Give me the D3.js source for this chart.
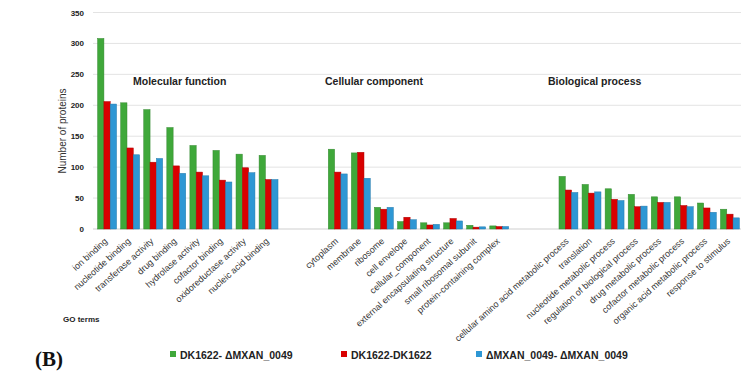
<!DOCTYPE html>
<html><head><meta charset="utf-8">
<script src="https://cdn.jsdelivr.net/npm/d3@7"></script>
<style>body{margin:0;background:#fff}svg{display:block}text{font-family:"Liberation Sans",Arial,sans-serif}</style>
</head><body><svg id="c" width="750" height="377"></svg>
<script>
const mfTerms = ["ion binding","nucleotide binding","transferase activity","drug binding","hydrolase activity","cofactor binding","oxidoreductase activity","nucleic acid binding"];
const ccTerms = ["cytoplasm","membrane","ribosome","cell envelope","cellular_component","external encapsulating structure","small ribosomal subunit","protein-containing complex"];
const bpTerms = ["cellular amino acid metabolic process","translation","nucleotide metabolic process","regulation of biological process","drug metabolic process","cofactor metabolic process","organic acid metabolic process","response to stimulus"];
const groupTitles = ["Molecular function","Cellular component","Biological process"];
const seriesNames = ["DK1622- ΔMXAN_0049","DK1622-DK1622","ΔMXAN_0049- ΔMXAN_0049"];
const seriesColors = ["#3fa83a","#d90000","#2e97d4"];
const wtMut = [308,204,193,164,135,127,121,119, 129,123,35,12,10,10,6,5, 85,72,65,56,52,52,42,32];
const wtWt  = [206,131,108,102,92,79,99,80, 92,124,32,19,6.5,17,3,4, 63,58,48,36,43,38,34,24];
const mutMut= [202,120,114,90,86,76,91,80, 89,82,35,15,7.5,13,3.5,4, 59,60,46,37,43,36,27,18];
const yTicks = [0,50,100,150,200,250,300,350];

const terms = mfTerms.concat(ccTerms, bpTerms);
const slots = [...mfTerms, "_g1", "_g2", ...ccTerms, "_g3", "_g4", ...bpTerms];
const svg = d3.select("#c");
const y = d3.scaleLinear().domain([0,350]).range([229,12.5]);
const x = d3.scaleBand().domain(slots).range([93,744]).paddingInner(0.18).paddingOuter(0.2);
const xs = d3.scaleBand().domain([0,1,2]).range([0,x.bandwidth()]);
const gridX0 = 93, gridX1 = 741;

// gridlines
svg.append("g").selectAll("line").data(yTicks).join("line")
  .attr("x1",gridX0).attr("x2",gridX1).attr("y1",d=>y(d)).attr("y2",d=>y(d))
  .attr("stroke",d=>d===0?"#cfcfcf":"#e3e3e3").attr("stroke-width",1);
// y tick labels
svg.append("g").selectAll("text").data(yTicks).join("text")
  .attr("x",84).attr("y",d=>y(d)+3).attr("text-anchor","end")
  .attr("font-size",8).attr("font-weight","bold").attr("fill","#222").text(d=>d);

// bars
const series = [wtMut, wtWt, mutMut];
const dark = seriesColors.map(c=>d3.color(c).darker(0.6).formatHex());
series.forEach((vals,si)=>{
  svg.append("g").selectAll("rect").data(terms).join("rect")
    .attr("x",(t)=>x(t)+xs(si))
    .attr("y",(t,i)=>y(vals[i]))
    .attr("width",xs.bandwidth())
    .attr("height",(t,i)=>y(0)-y(vals[i]))
    .attr("fill",seriesColors[si])
    .attr("stroke",dark[si]).attr("stroke-width",0.5);
});

// x labels
svg.append("g").selectAll("text").data(terms).join("text")
  .attr("transform",t=>`translate(${x(t)+x.bandwidth()/2+1},${y(0)+13}) rotate(-42)`)
  .attr("text-anchor","end").attr("font-size",9).attr("fill","#333").text(t=>t);

// group titles
const titleX = [133, 325, 548];
svg.append("g").selectAll("text").data(groupTitles).join("text")
  .attr("x",(d,i)=>titleX[i]).attr("y",85)
  .attr("font-size",10.5).attr("font-weight","bold").attr("fill","#222").text(d=>d);

// y label
svg.append("text").attr("transform","translate(66,131) rotate(-90)")
  .attr("text-anchor","middle").attr("font-size",10).attr("fill","#333").text("Number of proteins");

svg.append("text").attr("x",63).attr("y",322).attr("font-size",8).attr("font-weight","bold").attr("fill","#222").text("GO terms");
svg.append("text").attr("x",35).attr("y",366)
  .style("font-family","'Liberation Serif','Times New Roman',serif")
  .attr("font-size",21).attr("font-weight","bold").attr("fill","#111").text("(B)");

// legend
const legX = [170,341,476];
const lg = svg.append("g").selectAll("g").data(seriesNames).join("g")
  .attr("transform",(d,i)=>`translate(${legX[i]},351)`);
lg.append("rect").attr("width",6).attr("height",6).attr("fill",(d,i)=>seriesColors[i]);
lg.append("text").attr("x",10).attr("y",7.5).attr("font-size",10.5).attr("font-weight","bold").attr("fill","#222").text(d=>d);
</script></body></html>
